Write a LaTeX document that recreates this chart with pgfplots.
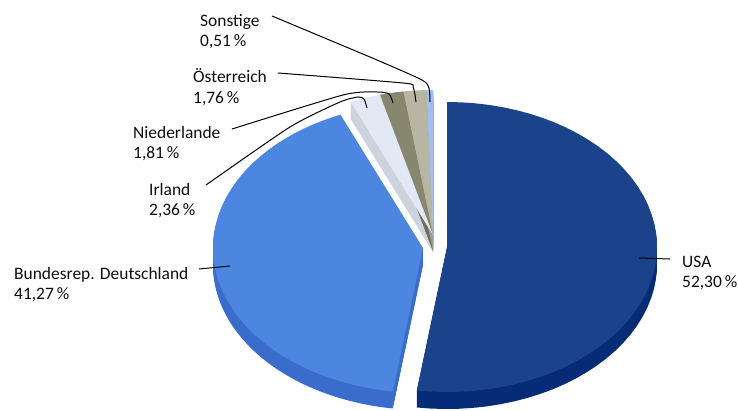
\documentclass[border=0pt]{standalone}
\usepackage{pgfplots}
\pgfplotsset{compat=1.18}
\usepackage{fontspec}
\setmainfont{Carlito}
\definecolor{usaTop}{HTML}{1A438C}
\definecolor{usaSide}{HTML}{062B77}
\definecolor{deTop}{HTML}{4D86E0}
\definecolor{deSide}{HTML}{3A6DCB}
\definecolor{irTop}{HTML}{E3E9F4}
\definecolor{irSide}{HTML}{CDD3DD}
\definecolor{nlTop}{HTML}{878770}
\definecolor{nlSide}{HTML}{6E6E5A}
\definecolor{atTop}{HTML}{B8B6A3}
\definecolor{atSide}{HTML}{9D9B89}
\definecolor{soTop}{HTML}{A0C0F2}
\definecolor{soSide}{HTML}{86A8DE}
% data (percent)
\def\vUSA{52.30}
\def\vDE{41.27}
\def\vIR{2.36}
\def\vNL{1.81}
\def\vAT{1.76}
\def\vSO{0.51}
\def\rx{210}
\def\ry{145}
\newcommand\slice[6]{%
  \addplot[fill=#1, draw=none, domain=#4:#5, samples=50, variable=\t]
    ({#2+\rx*sin(\t)},{#3+#6-\ry*cos(\t)}) -- ({#2},{#3+#6}) -- cycle;}
\newcommand\lbl[4]{%
  \node[anchor=base west, inner sep=0pt, font=\fontsize{17.5}{21}\selectfont, text=black!95] at (axis cs:#1,#2) {#3};
  \node[anchor=base west, inner sep=0pt, font=\fontsize{17.5}{21}\selectfont, text=black!95] at (axis cs:#1,#2+20) {#4};}
\begin{document}
\begin{tikzpicture}
\pgfmathsetmacro\aA{3.6*\vUSA}
\pgfmathsetmacro\aB{\aA+3.6*\vDE}
\pgfmathsetmacro\aC{\aB+3.6*\vIR}
\pgfmathsetmacro\aD{\aC+3.6*\vNL}
\pgfmathsetmacro\aE{\aD+3.6*\vAT}
\pgfmathsetmacro\aF{\aE+3.6*\vSO}
\begin{axis}[
  width=738bp, height=411bp, scale only axis,
  xmin=0, xmax=738, ymin=0, ymax=411, y dir=reverse,
  hide axis, clip=false,
]
\path (rel axis cs:0,0) rectangle (rel axis cs:1,1);
% sides (extrusion), back to front
\pgfplotsinvokeforeach{1,...,17}{
  \slice{soSide}{433}{235}{\aE}{\aF}{#1}
  \slice{atSide}{433}{235}{\aD}{\aE}{#1}
  \slice{nlSide}{433}{235}{\aC}{\aD}{#1}
  \slice{irSide}{433}{235}{\aB}{\aC}{#1}
}
\pgfplotsinvokeforeach{1,...,17}{
  \slice{deSide}{423}{248}{\aA}{\aB}{#1}
}
\pgfplotsinvokeforeach{1,...,17}{
  \slice{usaSide}{447}{247}{0}{\aA}{#1}
}
% tops
\slice{soTop}{433}{235}{\aE}{\aF}{0}
\slice{atTop}{433}{235}{\aD}{\aE}{0}
\slice{nlTop}{433}{235}{\aC}{\aD}{0}
\slice{irTop}{433}{235}{\aB}{\aC}{0}
\slice{deTop}{423}{248}{\aA}{\aB}{0}
\slice{usaTop}{447}{247}{0}{\aA}{0}
% leader lines
\addplot[black, line width=1bp] coordinates {(639,258) (670,259)};
\addplot[black, line width=1bp] coordinates {(199,269) (230,266)};
\addplot[black, line width=1bp, smooth, tension=0.4] coordinates {(206,185) (290,127) (340,102) (358,97) (364,99) (367,108)};
\addplot[black, line width=1bp, smooth, tension=0.4] coordinates {(232,129) (343,95) (377,92) (389,94) (393,103)};
\addplot[black, line width=1bp, smooth, tension=0.4] coordinates {(278,73) (403,83) (413,87) (416,102)};
\addplot[black, line width=1bp, smooth, tension=0.4] coordinates {(272,16) (377,60) (422,80) (429,88) (430,102)};
% labels
\lbl{200}{27}{Sonstige}{0,51\,\%}
\lbl{193}{83}{Österreich}{1,76\,\%}
\lbl{133}{138}{Niederlande}{1,81\,\%}
\lbl{149}{195}{Irland}{2,36\,\%}
\lbl{14}{279}{Bundesrep. Deutschland}{41,27\,\%}
\lbl{682}{267}{USA}{52,30\,\%}
\end{axis}
\end{tikzpicture}
\end{document}
